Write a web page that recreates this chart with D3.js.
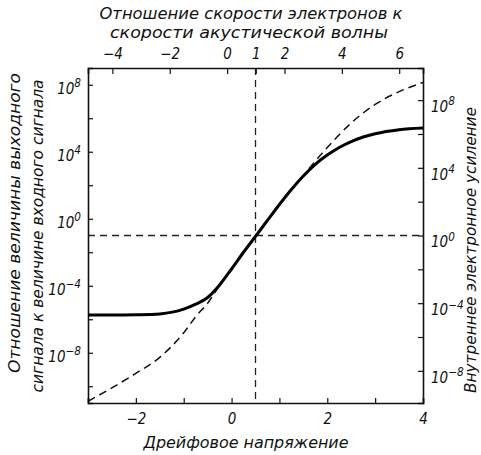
<!DOCTYPE html>
<html><head><meta charset="utf-8">
<script src="https://cdn.jsdelivr.net/npm/d3@7"></script>
<style>
body{margin:0;background:#fff;}
text{font-family:"DejaVu Sans Condensed","DejaVu Sans",sans-serif;font-style:italic;fill:#111;}
</style></head>
<body><svg id="c" width="481" height="455"></svg>
<script>
// Drift voltage (bottom axis)
const driftSolid = [-3,-2.5,-2,-1.5,-1,-0.75,-0.5,-0.25,0,0.25,0.5,0.75,1,1.25,1.5,1.75,2,2.25,2.5,2.75,3,3.5,4];
// Output/input signal ratio (left axis)
const ratioSolid = [1.78e-6,1.78e-6,1.86e-6,2.09e-6,3.98e-6,7.94e-6,2.0e-5,1.12e-4,1.0e-3,1.0e-2,8.9e-2,0.79,7.1,56,355,1780,6310,1.78e4,3.98e4,7.59e4,1.2e5,2.09e5,2.63e5];
// Drift voltage for internal gain
const driftDashed = [-3,-2.5,-2,-1.5,-1,-0.75,-0.5,-0.25,0,0.5,1,1.5,1.75,2,2.5,3,3.5,4];
// Internal electronic gain (right axis)
const gainDashed = [1.58e-10,1e-9,7.08e-9,6.31e-8,1.78e-6,1.58e-5,1e-4,1.12e-3,1.05e-2,1,67.6,3548,2.51e4,1.58e5,4.47e6,5.62e7,3.16e8,1.12e9];

const bottomTicks = [-3,-2,-1,0,1,2,3,4];
const bottomLabels = [-2,0,2,4];
const topTicks = [-4,-2,0,1,2,4,6];
const leftTicks = [1e-10,1e-8,1e-6,1e-4,1e-2,1,1e2,1e4,1e6,1e8];
const leftLabels = [-8,-4,0,4,8];
const rightTicks = [1e-8,1e-6,1e-4,1e-2,1,1e2,1e4,1e6,1e8];
const rightLabels = [-8,-4,0,4,8];
const crossDrift = 0.5;
const crossGain = 1;

const titleTop = ["Отношение скорости электронов к","скорости акустической волны"];
const titleLeft = ["Отношение величины выходного","сигнала к величине входного сигнала"];
const titleRight = "Внутреннее электронное усиление";
const titleBottom = "Дрейфовое напряжение";

const L=88,R=423,T=68,B=403;
const svg=d3.select("#c");
const x=d3.scaleLinear().domain([-3,4]).range([L,R]);
const xu=d3.scaleLinear().domain([-4.85,6.83]).range([L,R]);
const yl=d3.scaleLog().domain([1e-11,1e9]).range([B,T]);
const yr=d3.scaleLog().domain([1.26e-10,7.94e9]).range([B,T]);

function sup(sel){
  sel.each(function(d){
    const t=d3.select(this); const e=Math.round(Math.log10(d));
    t.text(null);
    if(e%4!==0){return;}
    t.append("tspan").text("10");
    t.append("tspan").attr("dy","-0.55em").attr("font-size","0.78em").text(e<0?"\u2212"+(-e):String(e));
  });
}

// dashed crosshair
const g=svg.append("g");
g.append("line").attr("x1",x(crossDrift)).attr("x2",x(crossDrift)).attr("y1",T).attr("y2",B)
 .attr("stroke","#222").attr("stroke-width",1.3).attr("stroke-dasharray","7,5");
g.append("line").attr("x1",L).attr("x2",R).attr("y1",yr(crossGain)).attr("y2",yr(crossGain))
 .attr("stroke","#222").attr("stroke-width",1.3).attr("stroke-dasharray","7,5");

// axes
const fs=15;
const ax=svg.append("g").attr("transform",`translate(0,${B})`)
 .call(d3.axisBottom(x).tickValues(bottomTicks).tickSize(-5).tickPadding(10)
   .tickFormat(d=>bottomLabels.includes(d)?(d<0?"\u2212"+(-d):d):""));
const at=svg.append("g").attr("transform",`translate(0,${T})`)
 .call(d3.axisTop(xu).tickValues(topTicks).tickSize(-6).tickPadding(9)
   .tickFormat(d=>d<0?"\u2212"+(-d):d));
const al=svg.append("g").attr("transform",`translate(${L},0)`)
 .call(d3.axisLeft(yl).tickValues(leftTicks).tickSize(-5).tickPadding(7));
al.selectAll(".tick text").call(sup).attr("dy","0.55em");
const ar=svg.append("g").attr("transform",`translate(${R},0)`)
 .call(d3.axisRight(yr).tickValues(rightTicks).tickSize(-5).tickPadding(8));
ar.selectAll(".tick text").call(sup).attr("dy","0.75em");
[ax,at,al,ar].forEach(a=>{
  a.select(".domain").attr("stroke","#111").attr("stroke-width",1.6);
  a.selectAll(".tick line").attr("stroke","#111").attr("stroke-width",1.2);
  a.selectAll("text").attr("font-family",null).attr("font-size",fs).attr("fill","#111");
});

// curves
const clip=svg.append("clipPath").attr("id","cp").append("rect").attr("x",L).attr("y",T).attr("width",R-L).attr("height",B-T);
const lineL=d3.line().x(d=>x(d[0])).y(d=>yl(d[1])).curve(d3.curveMonotoneX);
const lineR=d3.line().x(d=>x(d[0])).y(d=>yr(d[1])).curve(d3.curveMonotoneX);
svg.append("path").datum(driftDashed.map((v,i)=>[v,gainDashed[i]])).attr("d",lineR)
 .attr("fill","none").attr("stroke","#111").attr("stroke-width",1.5).attr("stroke-dasharray","8,5").attr("clip-path","url(#cp)");
svg.append("path").datum(driftSolid.map((v,i)=>[v,ratioSolid[i]])).attr("d",lineL)
 .attr("fill","none").attr("stroke","#000").attr("stroke-width",3).attr("clip-path","url(#cp)");

// titles
function txt(s,xx,yy,w,rot){
  const t=svg.append("text").attr("x",xx).attr("y",yy).attr("text-anchor","middle").attr("font-size",fs)
   .attr("textLength",w).attr("lengthAdjust","spacingAndGlyphs").text(s);
  if(rot) t.attr("transform",`rotate(${rot},${xx},${yy})`);
}
txt(titleTop[0],251,19,303);
txt(titleTop[1],249,38,278);
txt(titleBottom,246,448,205);
txt(titleLeft[0],20,223,300,-90);
txt(titleLeft[1],43,236,313,-90);
txt(titleRight,476,250,286,-90);
</script></body></html>
